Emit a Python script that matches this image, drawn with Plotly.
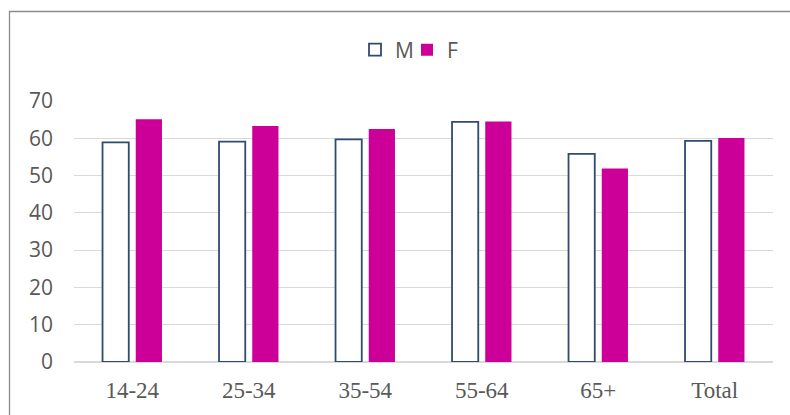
import plotly.graph_objects as go

categories = ["14-24", "25-34", "35-54", "55-64", "65+", "Total"]
m_values = [58.9, 59.1, 59.7, 64.4, 55.8, 59.3]
f_values = [65.1, 63.3, 62.5, 64.5, 51.9, 60.1]
y_ticks = [0, 10, 20, 30, 40, 50, 60, 70]

fig = go.Figure()
fig.add_trace(go.Bar(
    name="M", x=categories, y=m_values,
    marker=dict(color="white", line=dict(color="#2F4B6E", width=1.8)),
))
fig.add_trace(go.Bar(
    name="F", x=categories, y=f_values,
    marker=dict(color="#CC0099", line=dict(color="#CC0099", width=0)),
))

W, H = 790, 415
L, T = 74, 101
pw, ph = 699, 261
R, B = W - L - pw, H - T - ph

def px_x(wx):
    return (wx - L) / pw

def px_y(wy):
    return (T + ph - wy) / ph

fig.update_layout(
    width=W, height=H,
    margin=dict(l=L, r=R, t=T, b=B, pad=0),
    paper_bgcolor="white", plot_bgcolor="white",
    barmode="group", bargap=0.43, bargroupgap=0.21,
    showlegend=True,
    legend=dict(
        orientation="h", x=px_x(355), xanchor="left",
        y=px_y(50), yanchor="middle",
        font=dict(family="Open Sans", size=21, color="#595959"),
        itemwidth=30, entrywidth=7, entrywidthmode="pixels",
        tracegroupgap=0, bgcolor="rgba(0,0,0,0)",
    ),
    xaxis=dict(
        showgrid=False, showline=False, zeroline=False,
        tickfont=dict(family="Liberation Serif", size=23, color="#595959"),
        ticks="", ticklabelstandoff=12,
    ),
    yaxis=dict(
        range=[0, 70], tickvals=y_ticks, showgrid=True,
        gridcolor="#D9D9D9", gridwidth=1,
        zeroline=True, zerolinecolor="#D9D9D9", zerolinewidth=2,
        showline=False, ticks="",
        tickfont=dict(family="Open Sans", size=21, color="#595959"),
        ticklabelstandoff=20,
    ),
    font=dict(family="Open Sans", color="#595959"),
    shapes=[dict(
        type="rect", xref="paper", yref="paper",
        x0=px_x(9.5), x1=1.2,
        y0=-0.4, y1=px_y(11.5),
        line=dict(color="#8C8C8C", width=1.3), fillcolor="rgba(0,0,0,0)",
        layer="below",
    )],
)

fig.write_html(
    "out.html",
    config={"displayModeBar": False},
    post_script="document.body.style.margin='0';document.body.style.overflow='hidden';",
)
